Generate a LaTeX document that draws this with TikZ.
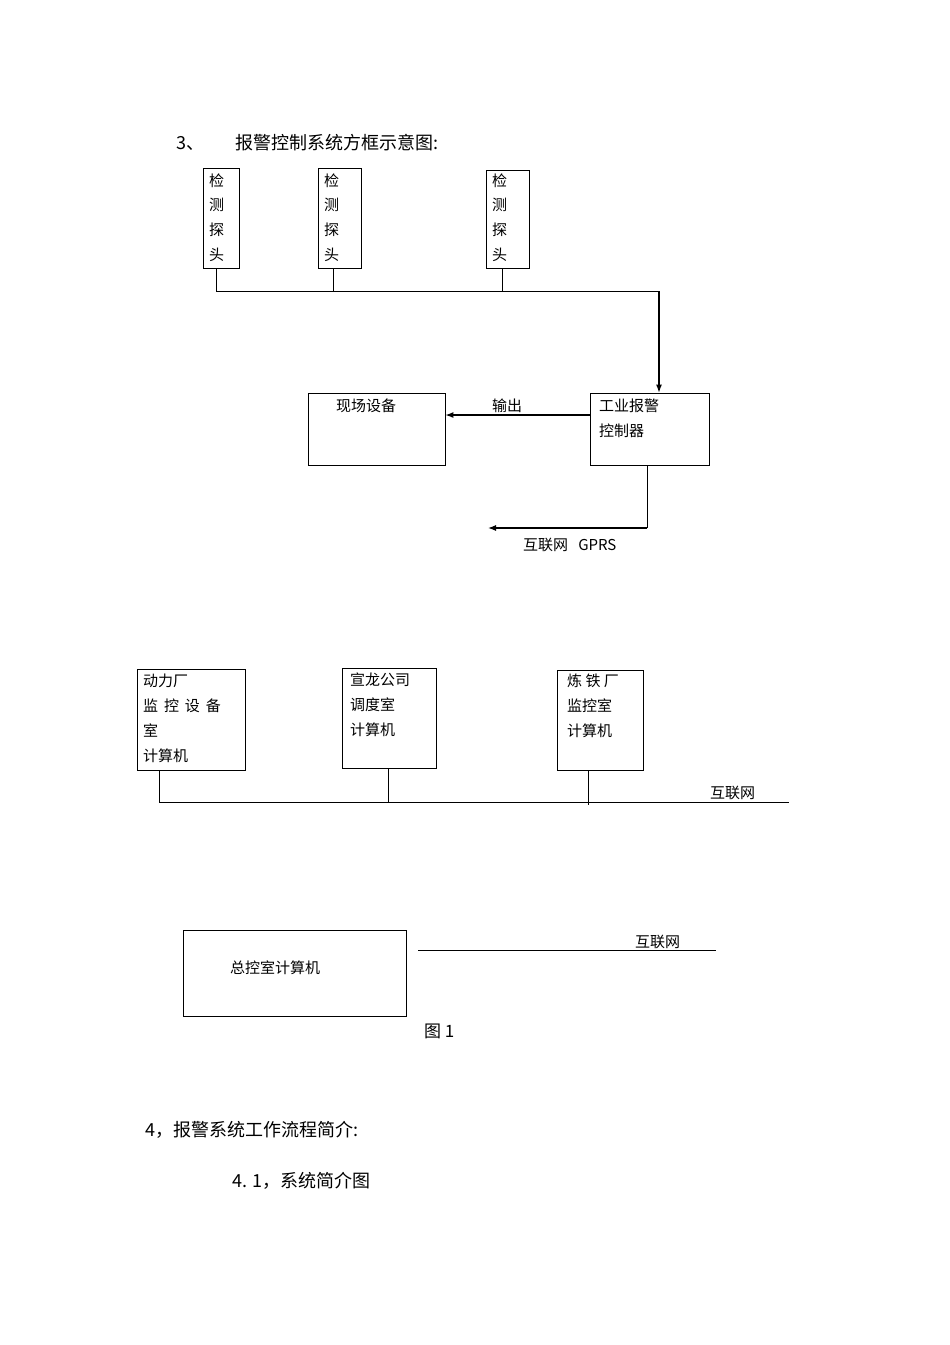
\documentclass[tikz,border=0pt]{standalone}
\usepackage{fontspec}
\setmainfont{Noto Sans CJK SC}
\usetikzlibrary{arrows.meta}
\begin{document}
\begin{tikzpicture}[x=1pt,y=-1pt,
  bx/.style={draw,line width=0.8pt,inner sep=0pt},
  ln/.style={line width=0.8pt},
  ar/.style={line width=1.2pt,-{Latex[length=8pt,width=6pt]}},
  t/.style={anchor=west,font=\fontsize{15}{18}\selectfont,inner sep=0pt},
  big/.style={anchor=west,font=\fontsize{18}{22}\selectfont,inner sep=0pt}]
\useasboundingbox (0,0) rectangle (950,1345);
\node[big] (h3) at (176,143) {3、};
\node[big] (h3b) at (235,143) {报警控制系统方框示意图:};
% detectors
\foreach \n/\a/\b/\ty in {d1/203/239/168,d2/318/361/168,d3/486/529/170}{
  \draw[ln] (\a,\ty) rectangle (\b,268);
  \node[bx,draw=none,minimum width=0pt] (\n) at ({(\a+\b)/2},218) {};
  \node[t] at (\a+6,181) {检};
  \node[t] at (\a+6,205) {测};
  \node[t] at (\a+6,230) {探};
  \node[t] at (\a+6,255) {头};
}
\coordinate (c1) at (216,268);
\coordinate (c2) at (333,268);
\coordinate (c3) at (502,268);
\coordinate (j) at (659,291);
\draw[ln] (c1) |- (j);
\draw[ln] (c2) -- (333,291);
\draw[ln] (c3) -- (502,291);
\node[bx,minimum width=119pt,minimum height=72pt] (ctl) at (649.5,429) {};
\node[t] at (599,406) {工业报警};
\node[t] at (599,431) {控制器};
\draw[ar] (j) -- (ctl.north -| j);
\node[bx,minimum width=137pt,minimum height=72pt] (fld) at (376.5,429) {};
\node[t] at (336,406) {现场设备};
\draw[ar] (590,415) -- (fld.east |- 0,415);
\node[t] at (492,406) {输出};
\coordinate (g1) at (647,528);
\coordinate (g2) at (488,528);
\draw[ln] (647,465) -- (g1);
\draw[ar] (g1) -- (g2);
\node[t] at (523,545) {互联网\ \ \ GPRS};
% second
\node[bx,minimum width=108pt,minimum height=101pt] (b1) at (191,719.5) {};
\node[t] at (143,681) {动力厂};
\node[t] at (143,706) {监\,\ 控\,\ 设\,\ 备};
\node[t] at (143,731) {室};
\node[t] at (143,756) {计算机};
\node[bx,minimum width=94pt,minimum height=100pt] (b2) at (389,718) {};
\node[t] at (350,680) {宣龙公司};
\node[t] at (350,705) {调度室};
\node[t] at (350,730) {计算机};
\node[bx,minimum width=86pt,minimum height=100pt] (b3) at (600,720) {};
\node[t] at (567,681) {炼\ 铁\ 厂};
\node[t] at (567,706) {监控室};
\node[t] at (567,731) {计算机};
\coordinate (n1) at (159,802);
\coordinate (n2) at (789,802);
\draw[ln] (159,770) -- (n1) -- (n2);
\draw[ln] (388,768) -- (388,802);
\draw[ln] (588,770) -- (588,805);
\node[t] at (710,793) {互联网};
\node[bx,minimum width=223pt,minimum height=86pt] (tot) at (294.5,973) {};
\node[t] at (230,968) {总控室计算机};
\coordinate (m1) at (418,950);
\coordinate (m2) at (716,950);
\draw[ln] (m1) -- (m2);
\node[t] at (635,942) {互联网};
\node[t,font=\fontsize{17}{20}\selectfont] at (424,1031) {图 1};
\node[big] at (145,1130) {4，报警系统工作流程简介:};
\node[big] at (232,1181) {4. 1，系统简介图};
\end{tikzpicture}
\end{document}
